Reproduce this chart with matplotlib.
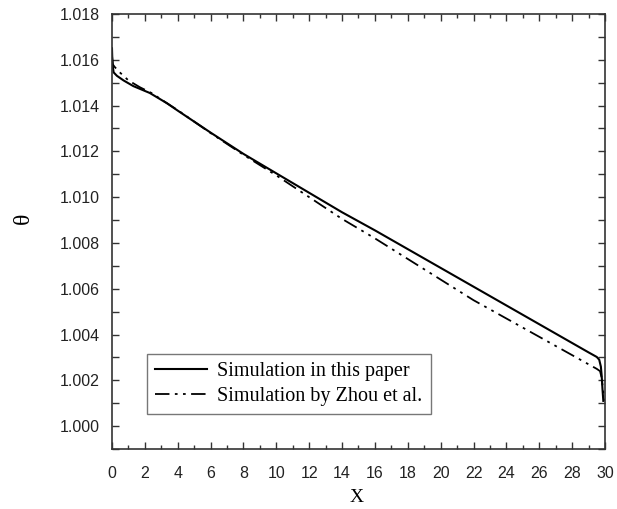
import matplotlib
matplotlib.use("Agg")
import matplotlib.pyplot as plt
from matplotlib.ticker import MultipleLocator, FormatStrFormatter

# solid line: simulation in this paper
x_paper = [0, 0.02, 0.05, 0.1, 0.3, 0.7, 1.3, 2.3, 3.35, 4, 6, 8, 10, 12, 14,
           16, 18, 20, 22, 24, 26, 28, 29, 29.5, 29.65, 29.75, 29.8, 29.85, 29.88, 29.9]
y_paper = [1.0165, 1.0160, 1.0157, 1.01545, 1.0153, 1.0151, 1.01485, 1.01455, 1.0141,
           1.01378, 1.01282, 1.01189, 1.01104, 1.01019, 1.00934, 1.00855, 1.00773,
           1.00691, 1.00609, 1.00527, 1.00445, 1.00363, 1.00322, 1.00302, 1.0029,
           1.0026, 1.0022, 1.0016, 1.0013, 1.0011]

# dash-dot-dot line: simulation by Zhou et al.
x_zhou = [0, 0.05, 0.15, 0.4, 1.0, 1.7, 2.4, 3.35, 4, 6, 8, 10, 12, 14, 16, 18,
          20, 22, 24, 26, 28, 29, 29.5, 29.7, 29.8, 29.9, 29.95]
y_zhou = [1.0162, 1.0158, 1.0157, 1.0155, 1.0151, 1.0148, 1.01455, 1.0141, 1.0138,
          1.0128, 1.01185, 1.01095, 1.0100, 1.00905, 1.0082, 1.0073, 1.0064, 1.0055,
          1.0047, 1.0039, 1.0031, 1.0027, 1.0025, 1.0024, 1.0021, 1.0015, 1.0011]

labels = ["Simulation in this paper", "Simulation by Zhou et al."]

fig = plt.figure(figsize=(6.17, 5.09), dpi=100)
ax = fig.add_axes([0.1815, 0.1179, 0.799, 0.8546])

ax.plot(x_paper, y_paper, color="black", lw=1.5, label=labels[0])
ax.plot(x_zhou, y_zhou, color="black", lw=1.3, dashes=(8, 3, 1.5, 3, 1.5, 3), label=labels[1])

ax.set_xlim(0, 30)
ax.set_ylim(0.999, 1.018)
ax.xaxis.set_major_locator(MultipleLocator(2))
ax.xaxis.set_minor_locator(MultipleLocator(1))
ax.yaxis.set_major_locator(MultipleLocator(0.002))
ax.yaxis.set_minor_locator(MultipleLocator(0.001))
ax.yaxis.set_major_formatter(FormatStrFormatter("%.3f"))

ax.tick_params(which="both", direction="in", top=True, right=True, colors="#333333",
               labelcolor="#222222", width=1.0)
ax.tick_params(which="major", length=5, labelsize=11.5)
ax.tick_params(axis="x", which="major", pad=12)
ax.tick_params(axis="y", which="major", pad=9)
ax.tick_params(axis="x", which="minor", length=3)
ax.tick_params(axis="y", which="minor", length=5)
for lab in ax.get_xticklabels() + ax.get_yticklabels():
    lab.set_family("Liberation Sans")
for sp in ax.spines.values():
    sp.set_color("#333333")
    sp.set_linewidth(1.2)

ax.set_xlabel("X", family="Liberation Serif", fontsize=14)
ax.set_ylabel("θ", family="Liberation Serif", fontsize=17)
ax.xaxis.set_label_coords(0.497, -0.093)
ax.yaxis.set_label_coords(-0.158, 0.53)

leg = ax.legend(loc="lower left", bbox_to_anchor=(0.071, 0.080), borderaxespad=0,
                prop={"family": "Liberation Serif", "size": 14.5}, fancybox=False,
                edgecolor="#777777", framealpha=1, handlelength=2.6, handletextpad=0.5,
                borderpad=0.4, labelspacing=0.3)
leg.get_frame().set_linewidth(1.0)

fig.savefig("out.png", dpi=100)
